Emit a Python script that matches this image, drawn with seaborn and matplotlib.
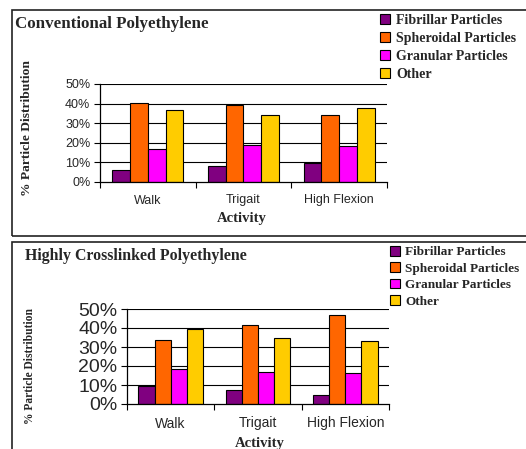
import matplotlib
matplotlib.use("Agg")
import matplotlib.pyplot as plt
import seaborn as sns
import pandas as pd
from matplotlib.ticker import PercentFormatter, FixedLocator
from matplotlib.patches import Rectangle, Patch

activities = ["Walk", "Trigait", "High Flexion"]
series = ["Fibrillar Particles", "Spheroidal Particles", "Granular Particles", "Other"]
colors = ["#800080", "#FF6600", "#FF00FF", "#FFCC00"]

conv_fibrillar = [0.060, 0.080, 0.099]
conv_spheroidal = [0.401, 0.392, 0.341]
conv_granular = [0.168, 0.187, 0.183]
conv_other = [0.366, 0.342, 0.377]

xl_fibrillar = [0.097, 0.072, 0.047]
xl_spheroidal = [0.336, 0.415, 0.468]
xl_granular = [0.183, 0.167, 0.162]
xl_other = [0.394, 0.350, 0.331]

yticks = [0, 0.1, 0.2, 0.3, 0.4, 0.5]

sns.set_style("white")
plt.rcParams["font.family"] = ["Liberation Sans", "DejaVu Sans"]

W, H = 526, 449
fig = plt.figure(figsize=(W / 100, H / 100), dpi=100)

def px_axes(x0, y0, x1, y1):
    return fig.add_axes([x0 / W, 1 - y1 / H, (x1 - x0) / W, (y1 - y0) / H])

def make_df(vals):
    rows = []
    for s, v in zip(series, vals):
        for a, val in zip(activities, v):
            rows.append({"Activity": a, "Series": s, "Value": val})
    return pd.DataFrame(rows)

serif = "Liberation Serif"

def draw_panel(ax, df, title, title_xy, ytick_fs, xtick_fs, ylab_fs, ylab_xy, xlab_xy, leg_xy, leg_fs, leg_sp):
    sns.barplot(data=df, x="Activity", y="Value", hue="Series", order=activities,
                hue_order=series, palette=colors, width=0.74, edgecolor="black",
                linewidth=0.8, ax=ax, legend=False, errorbar=None, saturation=1, zorder=3)
    ax.set_ylim(0, 0.5)
    ax.set_xlim(-0.5, 2.5)
    ax.yaxis.set_major_locator(FixedLocator(yticks))
    ax.yaxis.set_major_formatter(PercentFormatter(1.0, decimals=0))
    for y in yticks[1:]:
        ax.axhline(y, color="black", lw=0.8, zorder=1)
    for s in ["top", "right"]:
        ax.spines[s].set_visible(False)
    for s in ["left", "bottom"]:
        ax.spines[s].set_color("black")
        ax.spines[s].set_linewidth(0.9)
        ax.spines[s].set_zorder(4)
    ax.tick_params(axis="y", which="major", length=4, width=0.8, color="black",
                   direction="out", labelsize=ytick_fs, left=True, pad=3)
    ax.tick_params(axis="x", which="major", length=0, labelsize=xtick_fs, pad=9)
    ax.set_xticks([-0.5, 0.5, 1.5, 2.5], minor=True)
    ax.tick_params(axis="x", which="minor", length=4, width=0.8, color="black", direction="out", bottom=True)
    ax.set_xlabel("")
    ax.set_ylabel("")
    fig.text(title_xy[0] / W, 1 - title_xy[1] / H, title, family=serif, weight="bold",
             fontsize=title_xy[2], ha="left", va="center")
    fig.text(ylab_xy[0] / W, 1 - ylab_xy[1] / H, "% Particle Distribution", family=serif,
             weight="bold", fontsize=ylab_fs, rotation=90, ha="center", va="center")
    fig.text(xlab_xy[0] / W, 1 - xlab_xy[1] / H, "Activity", family=serif, weight="bold",
             fontsize=xlab_xy[2], ha="center", va="center")
    handles = [Patch(facecolor=c, edgecolor="black", linewidth=0.8, label=s) for s, c in zip(series, colors)]
    fig.legend(handles=handles, loc="upper left", bbox_to_anchor=(leg_xy[0] / W, 1 - leg_xy[1] / H),
               frameon=False, prop={"family": serif, "weight": "bold", "size": leg_fs},
               handlelength=0.75, handleheight=0.75, handletextpad=0.4, labelspacing=leg_sp,
               borderaxespad=0, borderpad=0)

# panel borders
fig.add_artist(Rectangle((12 / W, 1 - 235.5 / H), 600 / W, 225.5 / H, transform=fig.transFigure,
                         fill=False, edgecolor="#222222", lw=1.2))
fig.add_artist(Rectangle((12 / W, -0.1), 600 / W, 0.1 + 1 - 242 / H, transform=fig.transFigure,
                         fill=False, edgecolor="#222222", lw=1.2))

ax1 = px_axes(100, 84, 387, 182)
draw_panel(ax1, make_df([conv_fibrillar, conv_spheroidal, conv_granular, conv_other]),
           "Conventional Polyethylene", (15, 24, 12.2), 9, 9, 9.7, (27, 128), (242, 218, 10.5),
           (380, 14), 10, 0.35)

ax2 = px_axes(127, 309, 389, 404)
draw_panel(ax2, make_df([xl_fibrillar, xl_spheroidal, xl_granular, xl_other]),
           "Highly Crosslinked Polyethylene", (25, 256, 11.4), 14, 10, 8.3, (30, 366), (260, 443, 10.5),
           (390, 246), 9.5, 0.3)

fig.savefig("out.png", dpi=100)
